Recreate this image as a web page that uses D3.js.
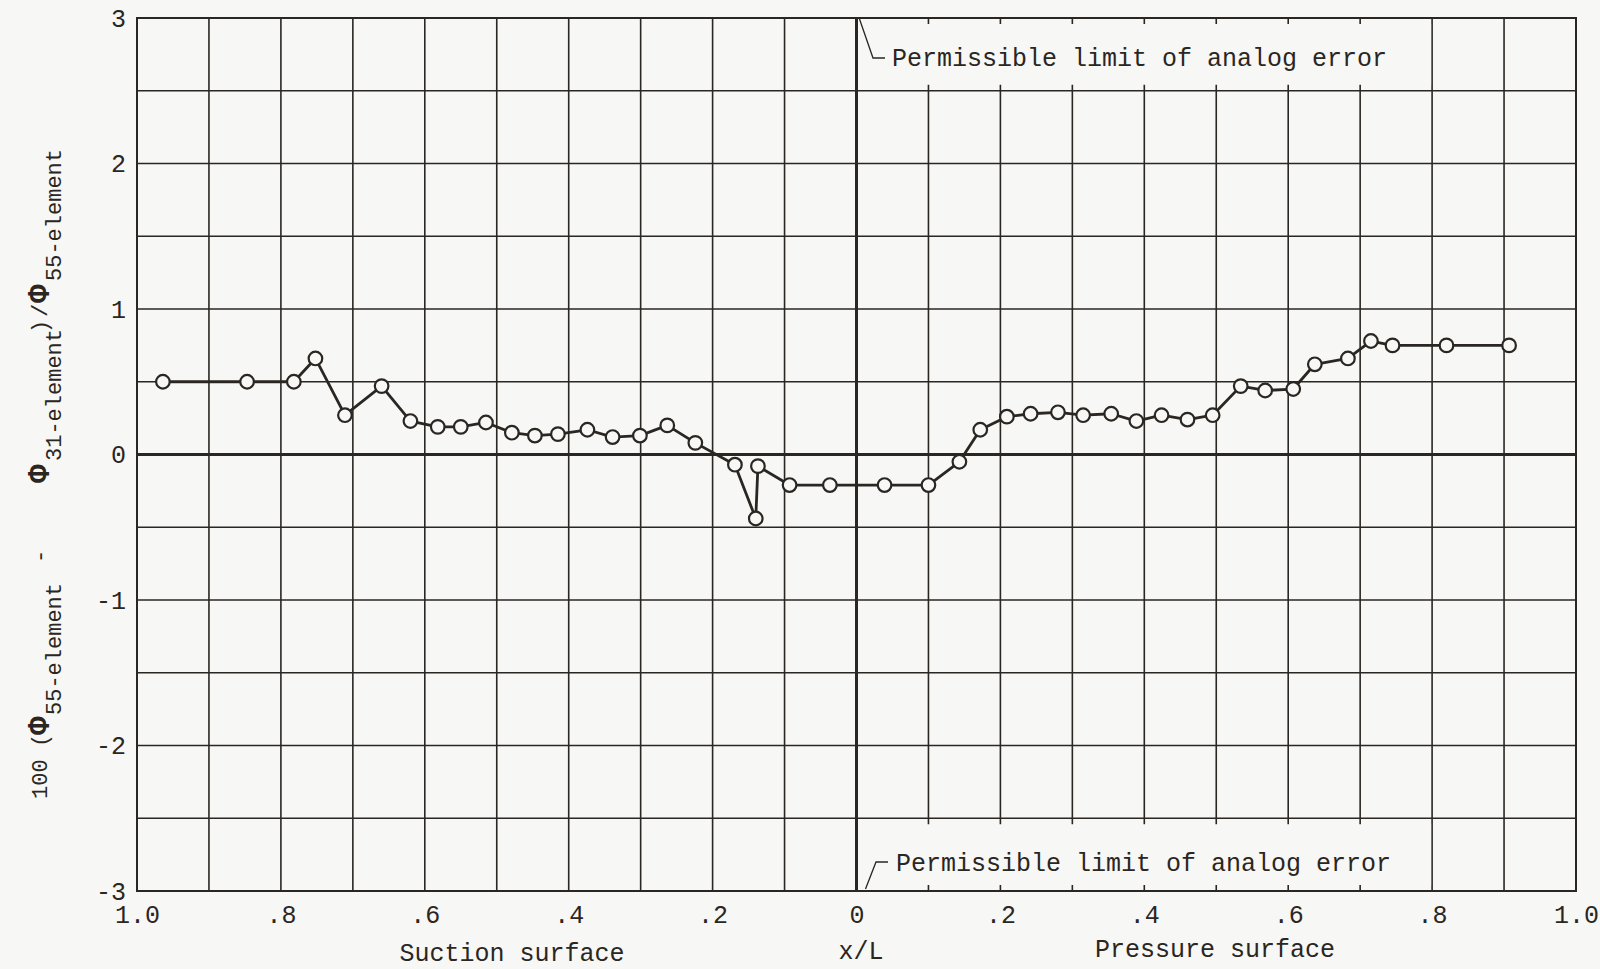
<!DOCTYPE html>
<html lang="en">
<head>
  <meta charset="UTF-8">
  <title>Analog error</title>
  <script src="https://cdn.jsdelivr.net/npm/d3@7"></script>
  <style>
    body { margin: 0; background: #f7f7f5; }
    text { font-family: "Liberation Mono", "DejaVu Sans Mono", monospace; fill: #2a2622; }
  </style>
</head>
<body>
<div id="chart"></div>
<script>

// suction surface points, read from 1.0 toward 0
var suctionX   = [0.964, 0.847, 0.782, 0.752, 0.711, 0.660, 0.620, 0.582, 0.550, 0.515,
                  0.479, 0.447, 0.415, 0.374, 0.339, 0.301, 0.263, 0.224, 0.169, 0.140,
                  0.137, 0.093, 0.037];
var suctionVal = [0.50, 0.50, 0.50, 0.66, 0.27, 0.47, 0.23, 0.19, 0.19, 0.22,
                  0.15, 0.13, 0.14, 0.17, 0.12, 0.13, 0.20, 0.08, -0.07, -0.44,
                  -0.08, -0.21, -0.21];

// pressure surface points, from 0 toward 1.0
var pressureX   = [0.039, 0.100, 0.143, 0.172, 0.209, 0.242, 0.280, 0.315, 0.354, 0.389,
                   0.424, 0.460, 0.495, 0.534, 0.568, 0.607, 0.637, 0.683, 0.715, 0.745,
                   0.820, 0.907];
var pressureVal = [-0.21, -0.21, -0.05, 0.17, 0.26, 0.28, 0.29, 0.27, 0.28, 0.23,
                   0.27, 0.24, 0.27, 0.47, 0.44, 0.45, 0.62, 0.66, 0.78, 0.75,
                   0.75, 0.75];

var suctionTicks  = [1.0, 0.8, 0.6, 0.4, 0.2];
var pressureTicks = [0, 0.2, 0.4, 0.6, 0.8, 1.0];
var yTicks = [-3, -2, -1, 0, 1, 2, 3];
var noteText = "Permissible limit of analog error";

(function() {

var W = 1600, H = 969;
var pLeft = 137, pRight = 1576, pTop = 18, pBottom = 891;
var ink = "#2a2622", paper = "#f7f7f5";

var svg = d3.select("#chart").append("svg")
    .attr("width", W)
    .attr("height", H);

var xSuction = d3.scaleLinear().domain([1, 0]).range([pLeft, (pLeft + pRight) / 2]);
var xPressure = d3.scaleLinear().domain([0, 1]).range([(pLeft + pRight) / 2, pRight]);
var y = d3.scaleLinear().domain([-3, 3]).range([pBottom, pTop]);

// grid
var fine = d3.ticks(0, 1, 10).filter(function(d){ return d > 0 && d < 1; });
var grid = svg.append("g").attr("stroke", ink).attr("stroke-width", 1.6);

grid.selectAll("line.vs")
    .data(fine)
    .enter().append("line")
    .attr("class", "vs")
    .attr("x1", function(d){ return xSuction(d); })
    .attr("x2", function(d){ return xSuction(d); })
    .attr("y1", pTop).attr("y2", pBottom);

grid.selectAll("line.vp")
    .data(fine)
    .enter().append("line")
    .attr("class", "vp")
    .attr("x1", function(d){ return xPressure(d); })
    .attr("x2", function(d){ return xPressure(d); })
    .attr("y1", pTop).attr("y2", pBottom);

grid.selectAll("line.h")
    .data(d3.ticks(-3, 3, 12).filter(function(d){ return d > -3 && d < 3 && d !== 0; }))
    .enter().append("line")
    .attr("class", "h")
    .attr("x1", pLeft).attr("x2", pRight)
    .attr("y1", function(d){ return y(d); })
    .attr("y2", function(d){ return y(d); });

// blank boxes for the two notes, leaving short tick stubs
var boxL = xPressure(0) + 2, boxR = xPressure(0.8) - 1;
svg.append("rect")
    .attr("x", boxL).attr("width", boxR - boxL)
    .attr("y", y(3) + 6).attr("height", y(2.5) - y(3) - 12)
    .attr("fill", paper);
svg.append("rect")
    .attr("x", boxL).attr("width", boxR - boxL)
    .attr("y", y(-2.5) + 6).attr("height", y(-3) - y(-2.5) - 12)
    .attr("fill", paper);

// heavy zero lines and frame
svg.append("line")
    .attr("x1", pLeft).attr("x2", pRight)
    .attr("y1", y(0)).attr("y2", y(0))
    .attr("stroke", ink).attr("stroke-width", 3);
svg.append("line")
    .attr("x1", xPressure(0)).attr("x2", xPressure(0))
    .attr("y1", pTop).attr("y2", pBottom)
    .attr("stroke", ink).attr("stroke-width", 3);
svg.append("rect")
    .attr("x", pLeft).attr("y", pTop)
    .attr("width", pRight - pLeft).attr("height", pBottom - pTop)
    .attr("fill", "none").attr("stroke", ink).attr("stroke-width", 2);

// axes
function fmt(d) {
  if (d === 1) return "1.0";
  if (d === 0) return "0";
  return d3.format(".1f")(d).replace(/^0/, "");
}

var axS = svg.append("g")
    .attr("transform", "translate(0," + pBottom + ")")
    .call(d3.axisBottom(xSuction).tickValues(suctionTicks).tickFormat(fmt).tickSize(0));
var axP = svg.append("g")
    .attr("transform", "translate(0," + pBottom + ")")
    .call(d3.axisBottom(xPressure).tickValues(pressureTicks).tickFormat(fmt).tickSize(0));
var axY = svg.append("g")
    .attr("transform", "translate(" + pLeft + ",0)")
    .call(d3.axisLeft(y).tickValues(yTicks).tickFormat(function(d){ return String(d); }).tickSize(0).tickPadding(11));

[axS, axP, axY].forEach(function(a) {
  a.attr("font-family", null).attr("font-size", null);
  a.select(".domain").remove();
  a.selectAll("text").attr("font-size", 25).attr("fill", ink);
});
axS.selectAll("text").attr("y", 32).attr("dy", 0);
axP.selectAll("text").attr("y", 32).attr("dy", 0);

// axis titles
svg.append("text").attr("x", 512).attr("y", 961).attr("text-anchor", "middle")
    .attr("font-size", 25).text("Suction surface");
svg.append("text").attr("x", 861).attr("y", 959).attr("text-anchor", "middle")
    .attr("font-size", 25).text("x/L");
svg.append("text").attr("x", 1215).attr("y", 957).attr("text-anchor", "middle")
    .attr("font-size", 25).text("Pressure surface");

var yl = svg.append("text")
    .attr("transform", "translate(47,799) rotate(-90)")
    .attr("font-size", 22);
var parts = [
  {t: "100", x: 0, sub: false},
  {t: "(", x: 52, sub: false},
  {t: "\u03A6", x: 64, phi: true},
  {t: "55-element", x: 84, sub: true},
  {t: "-", x: 236, sub: false},
  {t: "\u03A6", x: 316, phi: true},
  {t: "31-element", x: 338, sub: true},
  {t: ")", x: 466, sub: false},
  {t: "/", x: 482, sub: false},
  {t: "\u03A6", x: 496, phi: true},
  {t: "55-element", x: 518, sub: true}
];
yl.selectAll("tspan")
    .data(parts)
    .enter().append("tspan")
    .attr("x", function(d){ return d.x; })
    .attr("y", function(d){ return d.sub ? 14 : (d.phi ? 2 : 0); })
    .attr("font-size", function(d){ return d.phi ? 31 : 22; })
    .attr("font-weight", function(d){ return d.phi ? "bold" : null; })
    .text(function(d){ return d.t; });

// notes with leaders
svg.append("path")
    .attr("d", "M" + (xPressure(0) + 3) + "," + (pTop + 1) + " L873,58 L885,58")
    .attr("fill", "none").attr("stroke", ink).attr("stroke-width", 1.3);
svg.append("text").attr("x", 892).attr("y", 66).attr("font-size", 25).text(noteText);

svg.append("path")
    .attr("d", "M" + (xPressure(0) + 9) + "," + (pBottom - 2) + " L876,862 L888,862")
    .attr("fill", "none").attr("stroke", ink).attr("stroke-width", 1.3);
svg.append("text").attr("x", 896).attr("y", 871).attr("font-size", 25).text(noteText);

// data
var pts = suctionX.map(function(d, i){ return [xSuction(d), y(suctionVal[i])]; })
    .concat(pressureX.map(function(d, i){ return [xPressure(d), y(pressureVal[i])]; }));

svg.append("path")
    .attr("d", d3.line()(pts))
    .attr("fill", "none").attr("stroke", ink).attr("stroke-width", 2.8)
    .attr("stroke-linejoin", "round");

svg.selectAll("circle")
    .data(pts)
    .enter().append("circle")
    .attr("cx", function(d){ return d[0]; })
    .attr("cy", function(d){ return d[1]; })
    .attr("r", 6.8)
    .attr("fill", paper).attr("stroke", ink).attr("stroke-width", 2.2);

})();

</script>
</body>
</html>
